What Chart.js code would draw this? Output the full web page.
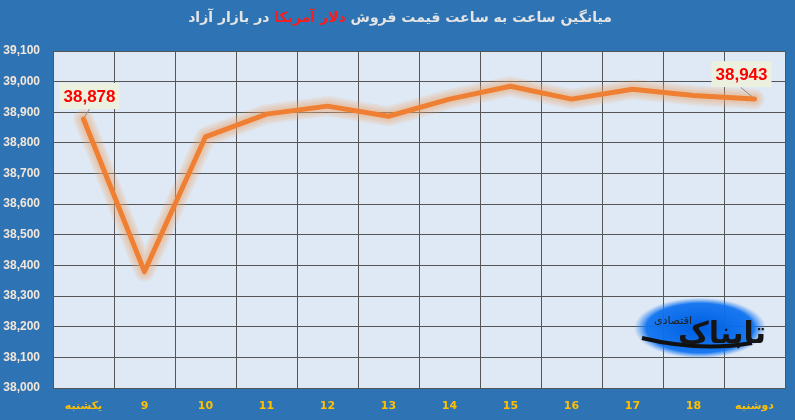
<!DOCTYPE html>
<html>
<head>
<meta charset="utf-8">
<script src="https://cdn.jsdelivr.net/npm/chart.js@4.4.1/dist/chart.umd.min.js"></script>
<style>
  html, body { margin: 0; padding: 0; background: #2e74b5; }
  #wrap { width: 795px; height: 420px; position: relative; }
</style>
</head>
<body>
<div id="wrap"><canvas id="rateChart"></canvas></div>
<script>
// Hourly labels (first = Sunday, last = Monday)
const hours = ['یکشنبه', '9', '10', '11', '12', '13', '14', '15', '16', '17', '18', 'دوشنبه'];
// Average dollar sell price
const prices = [38878, 38380, 38820, 38894, 38920, 38887, 38943, 38985, 38943, 38975, 38955, 38943];
// Points that carry a value box
const labelledPoints = [0, 11];

const titleParts = [
  { text: 'میانگین ساعت به ساعت قیمت فروش ', color: '#e4e4e4' },
  { text: 'دلار آمریکا', color: '#ff1a1a' },
  { text: ' در بازار آزاد', color: '#e4e4e4' }
];

const FONT = "'DejaVu Sans', Tahoma, sans-serif";
const NUM_FONT = "'Liberation Sans', Arial, sans-serif";

// Plot background + title
const backdrop = {
  id: 'backdrop',
  beforeDraw(chart) {
    const { ctx, chartArea: a } = chart;
    ctx.save();
    ctx.fillStyle = '#dfe9f5';
    ctx.fillRect(a.left, a.top, a.right - a.left, a.bottom - a.top);
    ctx.restore();
  },
  afterDraw(chart) {
    const ctx = chart.ctx;
    ctx.save();
    ctx.direction = 'rtl';
    ctx.textBaseline = 'middle';
    ctx.textAlign = 'right';
    ctx.font = `bold 14px ${FONT}`;
    const widths = titleParts.map(p => ctx.measureText(p.text).width);
    const total = widths.reduce((s, w) => s + w, 0);
    let x = 400 + total / 2;
    titleParts.forEach((p, i) => {
      ctx.fillStyle = p.color;
      ctx.fillText(p.text, x, 18);
      x -= widths[i];
    });
    ctx.restore();
  }
};

// Soft orange halo under the line, traced through the dataset's own points
const glow = {
  id: 'glow',
  beforeDatasetDraw(chart) {
    const ctx = chart.ctx;
    const pts = chart.getDatasetMeta(0).data;
    ctx.save();
    ctx.strokeStyle = 'rgba(236, 165, 115, 0.16)';
    ctx.lineJoin = 'round';
    ctx.lineCap = 'round';
    [20, 16, 12, 9].forEach(w => {
      ctx.lineWidth = w;
      ctx.beginPath();
      pts.forEach((p, i) => (i ? ctx.lineTo(p.x, p.y) : ctx.moveTo(p.x, p.y)));
      ctx.stroke();
    });
    ctx.restore();
  }
};

// Value boxes with leader lines
const valueBoxes = {
  id: 'valueBoxes',
  afterDatasetsDraw(chart) {
    const { ctx } = chart;
    const meta = chart.getDatasetMeta(0);
    const offsets = { 0: [6, -23], 11: [-13, -25] };
    labelledPoints.forEach(i => {
      const pt = meta.data[i];
      const [dx, dy] = offsets[i];
      const cx = pt.x + dx, cy = pt.y + dy;
      ctx.save();
      ctx.strokeStyle = '#8c8c8c';
      ctx.lineWidth = 1;
      ctx.beginPath();
      ctx.moveTo(cx + (i === 0 ? 0 : -1), cy + 13);
      ctx.lineTo(pt.x + (i === 0 ? 1 : -2), pt.y - 2);
      ctx.stroke();
      ctx.fillStyle = '#ebf1de';
      ctx.fillRect(cx - 30, cy - 13, 60, 26);
      ctx.font = `bold 17px ${NUM_FONT}`;
      ctx.fillStyle = '#ff0000';
      ctx.textAlign = 'center';
      ctx.textBaseline = 'middle';
      ctx.fillText(prices[i].toLocaleString('en-US'), cx, cy + 1);
      ctx.restore();
    });
  }
};

// Watermark logo
const logo = {
  id: 'logo',
  afterDatasetsDraw(chart) {
    const ctx = chart.ctx;
    ctx.save();
    ctx.translate(700, 328);
    ctx.scale(1, 0.46);
    const g = ctx.createRadialGradient(0, 0, 5, 0, 0, 66);
    g.addColorStop(0, 'rgba(0, 95, 225, 1)');
    g.addColorStop(0.8, 'rgba(15, 115, 240, 0.95)');
    g.addColorStop(1, 'rgba(60, 140, 245, 0)');
    ctx.fillStyle = g;
    ctx.beginPath();
    ctx.arc(0, 0, 66, 0, Math.PI * 2);
    ctx.fill();
    ctx.restore();

    ctx.save();
    ctx.strokeStyle = '#111';
    ctx.lineWidth = 4;
    ctx.beginPath();
    ctx.moveTo(642, 338);
    ctx.quadraticCurveTo(700, 352, 752, 343);
    ctx.stroke();
    ctx.direction = 'rtl';
    ctx.textAlign = 'right';
    ctx.textBaseline = 'alphabetic';
    ctx.font = `bold 30px ${FONT}`;
    ctx.fillStyle = '#151515';
    ctx.fillText('تابناک', 766, 343);
    ctx.font = `11px ${FONT}`;
    ctx.fillStyle = '#222';
    ctx.fillText('اقتصادی', 692, 324);
    ctx.restore();
  }
};

new Chart(document.getElementById('rateChart').getContext('2d'), {
  type: 'line',
  data: {
    labels: hours,
    datasets: [{
      data: prices,
      borderColor: '#ef7f33',
      borderWidth: 5,
      pointRadius: 0,
      tension: 0,
      fill: false,
      borderCapStyle: 'round',
      borderJoinStyle: 'round'
    }]
  },
  options: {
    responsive: true,
    maintainAspectRatio: false,
    animation: false,
    devicePixelRatio: 1,
    layout: { padding: { top: 51, right: 10, bottom: 0, left: 0 } },
    plugins: { legend: { display: false }, tooltip: { enabled: false } },
    scales: {
      x: {
        offset: true,
        grid: { offset: true, color: '#555', lineWidth: 1, drawTicks: false },
        border: { color: '#555', width: 1 },
        ticks: { color: '#ffc000', font: { family: FONT, size: 11, weight: 'bold' }, padding: 12, maxRotation: 0 },
        afterFit(s) { s.height = 32; }
      },
      y: {
        min: 38000,
        max: 39100,
        grid: { color: '#555', lineWidth: 1, drawTicks: false },
        border: { color: '#555', width: 1 },
        ticks: {
          stepSize: 100,
          color: '#f3e6da',
          font: { family: NUM_FONT, size: 12, weight: 'bold' },
          padding: 13,
          callback: v => v.toLocaleString('en-US')
        },
        afterFit(s) { s.width = 53; }
      }
    }
  },
  plugins: [backdrop, glow, valueBoxes, logo]
});
</script>
</body>
</html>
